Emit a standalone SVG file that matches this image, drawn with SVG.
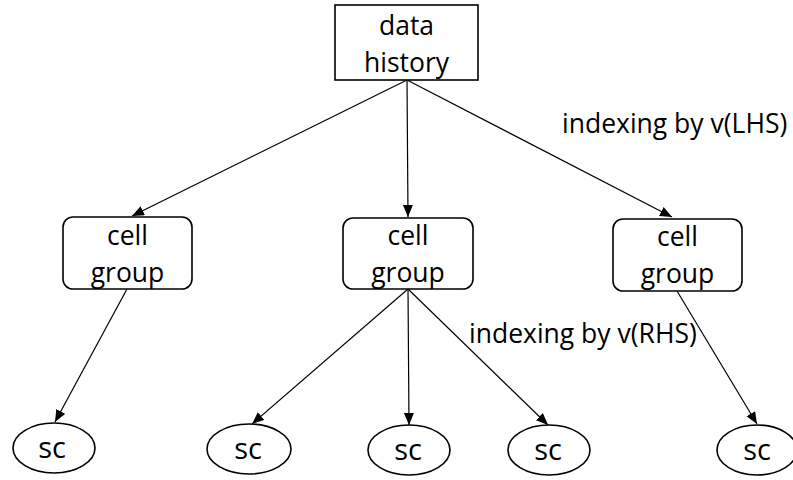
<svg xmlns="http://www.w3.org/2000/svg" width="793" height="480" viewBox="0 0 793 480">
<style>
.box{fill:#fff;stroke:#000;stroke-width:1.6}
.t{font-family:"Open Sans","Noto Sans",sans-serif;font-size:26.5px;fill:#000}
.s{font-size:29px}
.c{text-anchor:middle}
.ln{stroke:#000;stroke-width:1.2;fill:none;marker-end:url(#ah)}
</style>
<defs>
<marker id="ah" markerUnits="userSpaceOnUse" markerWidth="14" markerHeight="12" refX="12" refY="5" orient="auto">
<path d="M0,0 L12,5 L0,10 Z" fill="#000"/>
</marker>
</defs>
<g id="connectors">
<line class="ln" x1="407" y1="80" x2="132" y2="216"/>
<line class="ln" x1="407" y1="80" x2="408" y2="217"/>
<line class="ln" x1="407" y1="80" x2="672" y2="217"/>
<line class="ln" x1="127" y1="289" x2="55" y2="422"/>
<line class="ln" x1="408" y1="289" x2="252" y2="424"/>
<line class="ln" x1="408" y1="289" x2="409" y2="425"/>
<line class="ln" x1="408" y1="289" x2="548" y2="425"/>
<line class="ln" x1="677" y1="291" x2="757" y2="424"/>
</g>
<g id="data-history">
<rect class="box" x="335" y="5" width="143" height="75"/>
<text class="t c" x="406.5" y="35">data</text>
<text class="t c" x="406.5" y="72">history</text>
</g>
<g id="cell-group-1">
<rect class="box" x="63" y="217" width="129" height="72" rx="10"/>
<text class="t c" x="127.5" y="245">cell</text>
<text class="t c" x="127.5" y="282">group</text>
</g>
<g id="cell-group-2">
<rect class="box" x="343" y="218" width="130" height="71" rx="10"/>
<text class="t c" x="408" y="245">cell</text>
<text class="t c" x="408" y="282">group</text>
</g>
<g id="cell-group-3">
<rect class="box" x="613" y="219" width="129" height="72" rx="10"/>
<text class="t c" x="677.5" y="246">cell</text>
<text class="t c" x="677.5" y="283">group</text>
</g>
<g id="sc-1">
<ellipse class="box" cx="54" cy="448" rx="41" ry="25"/>
<text class="t s c" x="52" y="458">sc</text>
</g>
<g id="sc-2">
<ellipse class="box" cx="249" cy="449" rx="42" ry="25"/>
<text class="t s c" x="248" y="459">sc</text>
</g>
<g id="sc-3">
<ellipse class="box" cx="409" cy="450" rx="41" ry="25"/>
<text class="t s c" x="408" y="460">sc</text>
</g>
<g id="sc-4">
<ellipse class="box" cx="549" cy="450" rx="41" ry="25"/>
<text class="t s c" x="548" y="460">sc</text>
</g>
<g id="sc-5">
<ellipse class="box" cx="757" cy="450" rx="40" ry="25"/>
<text class="t s c" x="757" y="460">sc</text>
</g>
<g id="labels">
<text class="t" x="562" y="133">indexing by v(LHS)</text>
<text class="t" x="469" y="343">indexing by v(RHS)</text>
</g>
</svg>
